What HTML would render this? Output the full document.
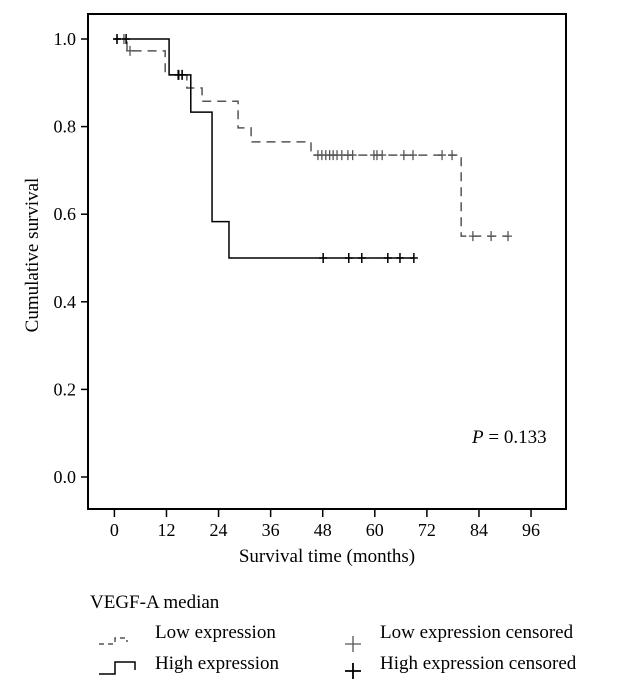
<!DOCTYPE html>
<html><head><meta charset="utf-8"><style>
body{margin:0;background:#fff}
svg{display:block;font-family:"Liberation Serif",serif}
</style></head><body>
<svg id="chart" width="621" height="689" viewBox="0 0 621 689" xmlns="http://www.w3.org/2000/svg">
<rect x="88" y="14" width="478" height="495" fill="none" stroke="#000" stroke-width="2"/>
<g id="axes"></g>
<g id="series"></g>
<text transform="translate(38,255) rotate(-90)" text-anchor="middle" font-size="19">Cumulative survival</text>
<text x="327" y="562" text-anchor="middle" font-size="19">Survival time (months)</text>
<text x="472" y="443" font-size="19"><tspan font-style="italic">P</tspan> = 0.133</text>
<g font-size="19">
<text x="90" y="608">VEGF-A median</text>
<path d="M99,644 h16 v-6 h12 v4" fill="none" stroke="#555" stroke-width="1.5" stroke-dasharray="5,4"/>
<text x="155" y="638">Low expression</text>
<path d="M99,674 h16 v-12 h20 v8" fill="none" stroke="#000" stroke-width="1.5"/>
<text x="155" y="669">High expression</text>
<path d="M345,644 h16 M353,636 v16" stroke="#555" stroke-width="1.3"/>
<text x="380" y="638">Low expression censored</text>
<path d="M345,671 h16 M353,663 v16" stroke="#000" stroke-width="1.8"/>
<text x="380" y="669">High expression censored</text>
</g>
</svg>
<script>
const xTicks=[0,12,24,36,48,60,72,84,96];
const yTicks=[0,0.2,0.4,0.6,0.8,1.0];
const lowTimes=[2.9,11.7,16.7,20.2,28.5,31.5,45.3,79.9];
const lowSurv=[0.973,0.918,0.888,0.858,0.797,0.765,0.735,0.55];
const lowEnd=90.7;
const lowCensor=[0.6,2.2,3.6,14.9,15.6,46.9,47.8,48.7,49.6,50.4,51.3,52.4,53.8,54.9,59.8,60.5,61.7,66.7,68.8,75.5,77.8,82.6,86.8,90.7];
const highTimes=[12.6,17.6,22.5,26.4];
const highSurv=[0.918,0.833,0.583,0.5];
const highEnd=69;
const highCensor=[0.6,2.7,14.7,15.6,48.1,54,57,63,65.8,69];
const X=m=>114.4+m*4.34, Y=s=>477-s*438;
const NS="http://www.w3.org/2000/svg";
const axes=document.getElementById('axes'), series=document.getElementById('series');
function mk(tag,attrs,parent){const e=document.createElementNS(NS,tag);for(const k in attrs)e.setAttribute(k,attrs[k]);parent.appendChild(e);return e;}
xTicks.forEach(t=>{
 const l=mk('line',{x1:X(t),x2:X(t),y1:509,y2:517,stroke:'#000','stroke-width':1.5},axes);
 
 
 const tx=mk('text',{x:X(t),y:536,'text-anchor':'middle','font-size':18},axes);tx.textContent=t;
 
 
});
yTicks.forEach(t=>{
 const l=mk('line',{x1:81,x2:88,y1:Y(t),y2:Y(t),stroke:'#000','stroke-width':1.5},axes);
 
 
 const tx=mk('text',{x:76,y:Y(t)+6,'text-anchor':'end','font-size':18},axes);tx.textContent=t.toFixed(1);
 
 
});
function survAt(times,surv,m){let s=1;times.forEach((t,i)=>{if(m>=t)s=surv[i];});return s;}
function stepPath(times,surv,end){let d=`M${X(0)},${Y(1)}`;times.forEach((t,i)=>{d+=` H${X(t)} V${Y(surv[i])}`;});d+=` H${X(end)}`;return d;}
const lp=mk('path',{d:stepPath(lowTimes,lowSurv,lowEnd),fill:'none',stroke:'#555','stroke-width':1.5,'stroke-dasharray':'9,6'},series);


const hp=mk('path',{d:stepPath(highTimes,highSurv,highEnd),fill:'none',stroke:'#000','stroke-width':1.5},series);


lowCensor.forEach(m=>{const y=Y(survAt(lowTimes,lowSurv,m)),x=X(m);
 const c=mk('path',{d:`M${x-4},${y} h8 M${x},${y-5} v10`,stroke:'#555','stroke-width':1.3},series);
 
 });
highCensor.forEach(m=>{const y=Y(survAt(highTimes,highSurv,m)),x=X(m);
 const c=mk('path',{d:`M${x-4},${y} h8 M${x},${y-5} v10`,stroke:'#000','stroke-width':1.5},series);
 
 });
</script>
</body></html>
